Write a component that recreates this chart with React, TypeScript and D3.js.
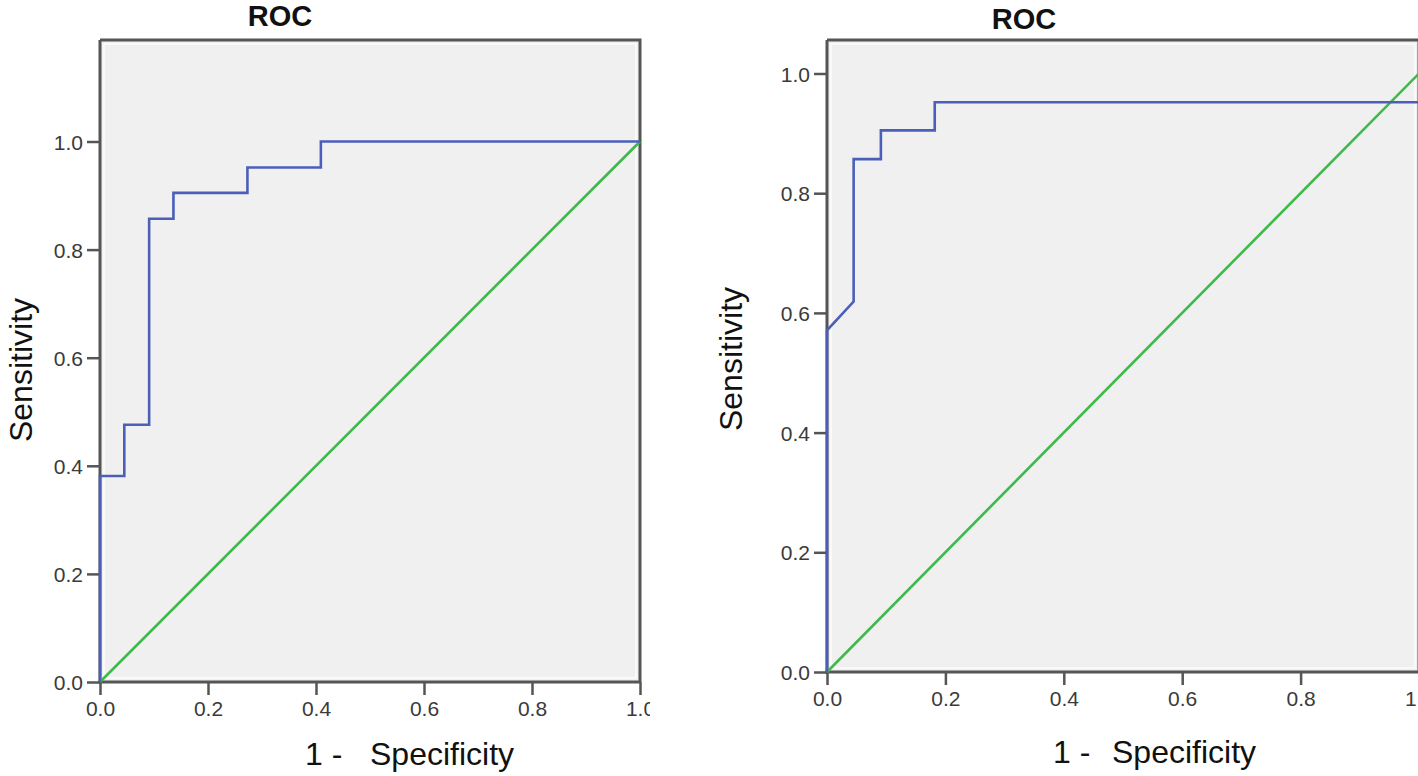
import { useEffect, useRef } from 'react';
import * as d3 from 'd3';

// ROC points (1 - specificity, sensitivity)
const leftFpr = [0, 0, 0.045, 0.045, 0.091, 0.091, 0.136, 0.136, 0.273, 0.273, 0.409, 0.409, 1];
const leftTpr = [0, 0.381, 0.381, 0.476, 0.476, 0.857, 0.857, 0.905, 0.905, 0.952, 0.952, 1, 1];

const rightFpr = [0, 0, 0.045, 0.045, 0.091, 0.091, 0.182, 0.182, 1];
const rightTpr = [0, 0.571, 0.619, 0.857, 0.857, 0.905, 0.905, 0.952, 0.952];

const refLine = [0, 1];
const tickValues = [0, 0.2, 0.4, 0.6, 0.8, 1];

const titleText = 'ROC';
const yLabelText = 'Sensitivity';
const xLabelPrefix = '1 -';
const xLabelText = 'Specificity';

const FONT = '"Liberation Sans", Arial, sans-serif';
const BLUE = '#4b5fb9';
const GREEN = '#3cba4a';
const AXIS = '#555';

interface PanelLayout {
  left: number;
  right: number;
  top: number;
  bottom: number;
  onePx: number; // pixel of y = 1.0
  clipLeft: number;
  clipRight: number;
  title: [number, number];
  yLabel: [number, number];
  xLabel: [number, number, number];
}

const panels: { layout: PanelLayout; fpr: number[]; tpr: number[] }[] = [
  {
    layout: {
      left: 100, right: 640, top: 40, bottom: 682, onePx: 141.5, clipLeft: 0, clipRight: 650,
      title: [280, 26], yLabel: [32, 370], xLabel: [305, 370, 765],
    },
    fpr: leftFpr,
    tpr: leftTpr,
  },
  {
    layout: {
      left: 827, right: 1419, top: 40, bottom: 672, onePx: 73.5, clipLeft: 660, clipRight: 1418,
      title: [1024, 29], yLabel: [742, 359], xLabel: [1053, 1112, 763],
    },
    fpr: rightFpr,
    tpr: rightTpr,
  },
];

export default function App() {
  const svgRef = useRef<SVGSVGElement>(null);

  useEffect(() => {
    if (!svgRef.current) return;
    const svg = d3.select(svgRef.current);
    svg.selectAll('*').remove();
    const defs = svg.append('defs');

    panels.forEach((p, i) => {
      const L = p.layout;
      const clipId = `clip-${i}`;
      defs.append('clipPath').attr('id', clipId)
        .append('rect')
        .attr('x', L.clipLeft).attr('y', 0)
        .attr('width', L.clipRight - L.clipLeft).attr('height', 776);

      const g = svg.append('g').attr('clip-path', `url(#${clipId})`);

      const x = d3.scaleLinear().domain([0, 1]).range([L.left, L.right]);
      const y = d3.scaleLinear().domain([0, 1]).range([L.bottom, L.onePx]);

      // plot background
      g.append('rect')
        .attr('x', L.left).attr('y', L.top)
        .attr('width', L.right - L.left).attr('height', L.bottom - L.top)
        .attr('fill', '#f0f0f0');
      g.append('rect')
        .attr('x', L.left + 4).attr('y', L.top + 4)
        .attr('width', L.right - L.left - 8).attr('height', L.bottom - L.top - 8)
        .attr('fill', 'none').attr('stroke', '#fff').attr('stroke-width', 1.2);

      // frame
      g.append('path')
        .attr('d', `M${L.left},${L.top}H${L.right}V${L.bottom}`)
        .attr('fill', 'none').attr('stroke', AXIS).attr('stroke-width', 3);

      // axes
      const yAxis = d3.axisLeft(y).tickValues(tickValues).tickSize(13).tickPadding(4)
        .tickFormat(d3.format('.1f'));
      const xAxis = d3.axisBottom(x).tickValues(tickValues).tickSize(13).tickPadding(6)
        .tickFormat(d3.format('.1f'));

      const ya = g.append('g').attr('transform', `translate(${L.left},0)`).call(yAxis);
      ya.select('.domain').remove();
      g.append('line')
        .attr('x1', L.left).attr('x2', L.left).attr('y1', L.top).attr('y2', L.bottom + 1.5)
        .attr('stroke', AXIS).attr('stroke-width', 3);

      const xa = g.append('g').attr('transform', `translate(0,${L.bottom})`).call(xAxis);
      xa.select('.domain').remove();
      g.append('line')
        .attr('x1', L.left - 1.5).attr('x2', L.right).attr('y1', L.bottom).attr('y2', L.bottom)
        .attr('stroke', AXIS).attr('stroke-width', 3);

      [ya, xa].forEach(a => {
        a.selectAll('.tick line').attr('stroke', AXIS).attr('stroke-width', 2.5);
        a.selectAll('.tick text')
          .attr('fill', '#3a3a3a').attr('font-size', 21).attr('font-family', FONT);
      });
      ya.selectAll('.tick text').attr('dy', '0.36em');
      xa.selectAll('.tick text').attr('dy', '0.72em');

      // reference diagonal
      const line = d3.line<number>().x(d => x(d)).y(d => y(d));
      g.append('path')
        .attr('d', line(refLine) || '')
        .attr('fill', 'none').attr('stroke', GREEN).attr('stroke-width', 2.6);

      // ROC curve
      const pts = p.fpr.map((f, k) => [f, p.tpr[k]] as [number, number]);
      const curve = d3.line<[number, number]>().x(d => x(d[0])).y(d => y(d[1]));
      g.append('path')
        .attr('d', curve(pts) || '')
        .attr('fill', 'none').attr('stroke', BLUE).attr('stroke-width', 2.6)
        .attr('stroke-linejoin', 'miter');

      // texts
      g.append('text')
        .attr('x', L.title[0]).attr('y', L.title[1])
        .attr('text-anchor', 'middle')
        .attr('font-family', FONT).attr('font-size', 29).attr('font-weight', 'bold')
        .attr('fill', '#111')
        .text(titleText);

      g.append('text')
        .attr('transform', `translate(${L.yLabel[0]},${L.yLabel[1]}) rotate(-90)`)
        .attr('text-anchor', 'middle')
        .attr('font-family', FONT).attr('font-size', 32)
        .attr('fill', '#111')
        .text(yLabelText);

      g.append('text')
        .attr('x', L.xLabel[0]).attr('y', L.xLabel[2])
        .attr('font-family', FONT).attr('font-size', 32)
        .attr('fill', '#111')
        .text(xLabelPrefix);
      g.append('text')
        .attr('x', L.xLabel[1]).attr('y', L.xLabel[2])
        .attr('font-family', FONT).attr('font-size', 32)
        .attr('fill', '#111')
        .text(xLabelText);
    });
  }, []);

  return (
    <svg
      ref={svgRef}
      width={1418}
      height={776}
      style={{ position: 'absolute', left: 0, top: 0, background: '#fff' }}
    />
  );
}
